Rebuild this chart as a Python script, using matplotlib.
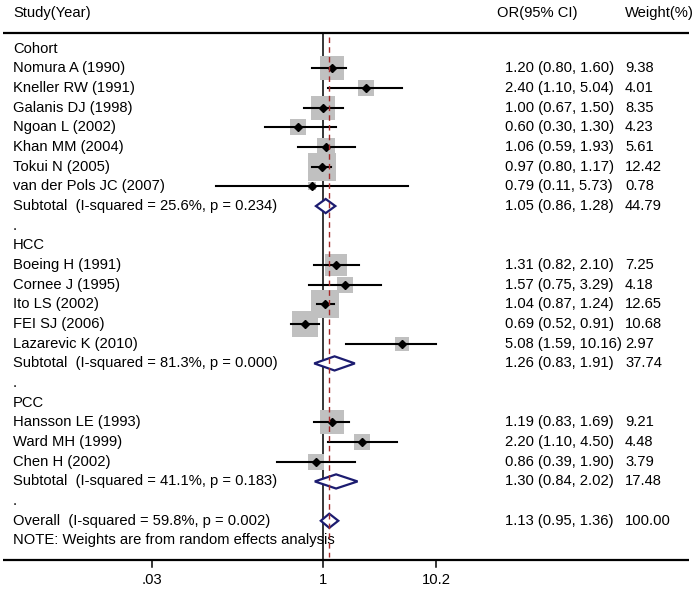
import matplotlib.pyplot as plt
import matplotlib.transforms as mtransforms
import numpy as np

plt.rcParams['font.family'] = ['Liberation Sans', 'DejaVu Sans']

# study level data
groups = ["Cohort", "HCC", "PCC"]
studies = [
    ["Nomura A (1990)", "Kneller RW (1991)", "Galanis DJ (1998)", "Ngoan L (2002)",
     "Khan MM (2004)", "Tokui N (2005)", "van der Pols JC (2007)"],
    ["Boeing H (1991)", "Cornee J (1995)", "Ito LS (2002)", "FEI SJ (2006)",
     "Lazarevic K (2010)"],
    ["Hansson LE (1993)", "Ward MH (1999)", "Chen H (2002)"],
]
odds = [[1.20, 2.40, 1.00, 0.60, 1.06, 0.97, 0.79],
        [1.31, 1.57, 1.04, 0.69, 5.08],
        [1.19, 2.20, 0.86]]
ci_low = [[0.80, 1.10, 0.67, 0.30, 0.59, 0.80, 0.11],
          [0.82, 0.75, 0.87, 0.52, 1.59],
          [0.83, 1.10, 0.39]]
ci_high = [[1.60, 5.04, 1.50, 1.30, 1.93, 1.17, 5.73],
           [2.10, 3.29, 1.24, 0.91, 10.16],
           [1.69, 4.50, 1.90]]
weights = [[9.38, 4.01, 8.35, 4.23, 5.61, 12.42, 0.78],
           [7.25, 4.18, 12.65, 10.68, 2.97],
           [9.21, 4.48, 3.79]]

# pooled estimates
sub_or = [1.05, 1.26, 1.30]
sub_low = [0.86, 0.83, 0.84]
sub_high = [1.28, 1.91, 2.02]
sub_w = [44.79, 37.74, 17.48]
sub_i2 = [25.6, 81.3, 41.1]
sub_p = [0.234, 0.000, 0.183]
overall = (1.13, 0.95, 1.36, 100.00, 59.8, 0.002)

tick_vals = [0.03, 1, 10.2]
tick_labels = [".03", "1", "10.2"]

W, H = 698, 589
fig = plt.figure(figsize=(W / 100, H / 100), dpi=100)
ax = fig.add_axes([0, 0, 1, 1])
ax.set_xscale('log')
x0, ppd = 323.3, 112.2  # pixel of OR=1, pixels per decade
ax.set_xlim(10 ** (-x0 / ppd), 10 ** ((W - x0) / ppd))
y0, step = 48.7, 19.67
ax.set_ylim((H - y0) / step, -y0 / step)
ax.axis('off')

bt = mtransforms.blended_transform_factory(ax.transAxes, ax.transData)
fs = 10.6
navy = '#1c1c70'


def px(x):
    return x / W


def row_text(y, label, est=None, lo=None, hi=None, w=None):
    ax.text(px(13), y, label, transform=bt, fontsize=fs, va='center')
    if est is not None:
        ax.text(px(505), y, f"{est:.2f} ({lo:.2f}, {hi:.2f})", transform=bt,
                fontsize=fs, va='center')
        ax.text(px(625), y, f"{w:.2f}", transform=bt, fontsize=fs, va='center')


def diamond(y, est, lo, hi):
    h = 0.36
    ax.fill([lo, est, hi, est, lo], [y, y - h, y, y + h, y], facecolor='white',
            edgecolor=navy, lw=1.6, zorder=5)


# header
ax.text(px(13), -1.81, "Study(Year)", transform=bt, fontsize=fs, va='center')
ax.text(px(497), -1.81, "OR(95% CI)", transform=bt, fontsize=fs, va='center')
ax.text(px(625), -1.81, "Weight(%)", transform=bt, fontsize=fs, va='center')
ax.plot([px(3), px(689)], [-0.78, -0.78], transform=bt, color='black', lw=1.6,
        solid_capstyle='butt')
ax.plot([px(3), px(689)], [26.0, 26.0], transform=bt, color='black', lw=1.6,
        solid_capstyle='butt')

# reference lines
ax.plot([1, 1], [-0.78, 26.0], color='black', lw=1.1, zorder=1)
ax.plot([overall[0]] * 2, [-0.62, 25.85], color='#a52a2a', lw=1.0,
        dashes=(4, 3), zorder=6)

row = 0
for g, name in enumerate(groups):
    row_text(row, name)
    row += 1
    for k, s in enumerate(studies[g]):
        est, lo, hi, w = odds[g][k], ci_low[g][k], ci_high[g][k], weights[g][k]
        side = 8.0 * np.sqrt(w) * 0.72
        ax.plot([est], [row], marker='s', markersize=side, color='#c0c0c0',
                markeredgewidth=0, zorder=2)
        ax.plot([lo, hi], [row, row], color='black', lw=1.5, zorder=3)
        ax.plot([est], [row], marker='D', markersize=4, color='black', zorder=4)
        row_text(row, s, est, lo, hi, w)
        row += 1
    label = f"Subtotal  (I-squared = {sub_i2[g]:.1f}%, p = {sub_p[g]:.3f})"
    diamond(row, sub_or[g], sub_low[g], sub_high[g])
    row_text(row, label, sub_or[g], sub_low[g], sub_high[g], sub_w[g])
    row += 1
    row_text(row, ".")
    row += 1

est, lo, hi, w, i2, p = overall
diamond(row, est, lo, hi)
row_text(row, f"Overall  (I-squared = {i2:.1f}%, p = {p:.3f})", est, lo, hi, w)
row += 1
row_text(row, "NOTE: Weights are from random effects analysis")

# x axis ticks
for v, t in zip(tick_vals, tick_labels):
    ax.plot([v, v], [26.0, 26.33], color='black', lw=1.1)
    ax.text(v, 27.02, t, fontsize=fs, ha='center', va='center')

fig.savefig('out.png', dpi=100)
